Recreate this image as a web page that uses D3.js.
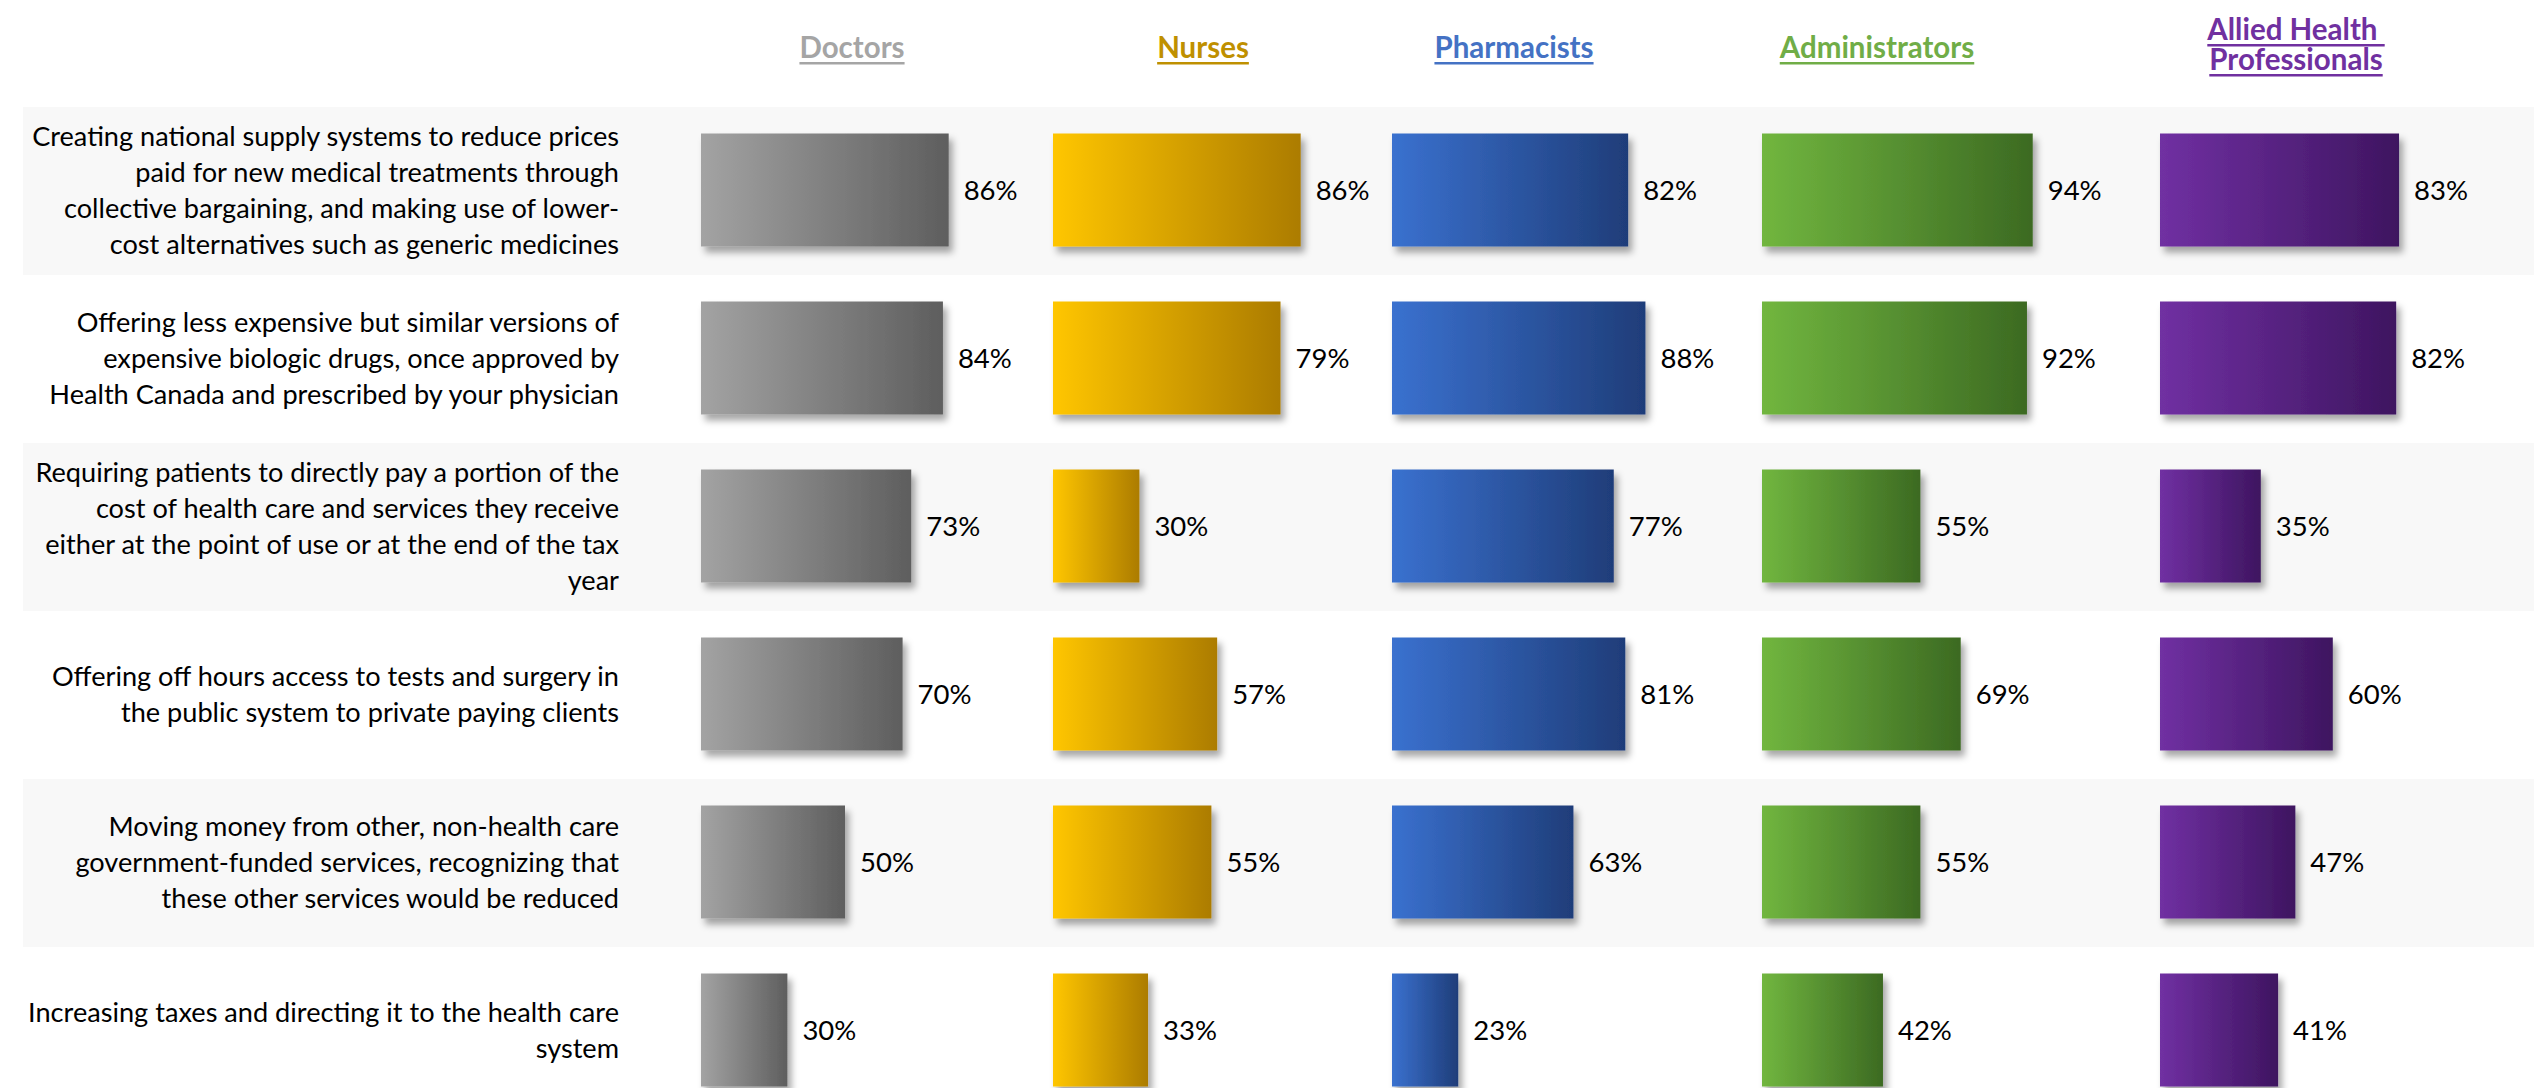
<!DOCTYPE html>
<html>
<head>
<meta charset="utf-8">
<script src="https://cdn.jsdelivr.net/npm/d3@7"></script>
<style>
  html, body { margin: 0; padding: 0; background: #ffffff; }
  svg { display: block; }
</style>
</head>
<body>
<svg id="chart" width="2534" height="1088"></svg>
<script>
// ---------- DATA ----------
const categories = [
  "Creating national supply systems to reduce prices\npaid for new medical treatments through\ncollective bargaining, and making use of lower-\ncost alternatives such as generic medicines",
  "Offering less expensive but similar versions of\nexpensive biologic drugs, once approved by\nHealth Canada and prescribed by your physician",
  "Requiring patients to directly pay a portion of the\ncost of health care and services they receive\neither at the point of use or at the end of the tax\nyear",
  "Offering off hours access to tests and surgery in\nthe public system to private paying clients",
  "Moving money from other, non-health care\ngovernment-funded services, recognizing that\nthese other services would be reduced",
  "Increasing taxes and directing it to the health care\nsystem"
];
const groups = ["Doctors", "Nurses", "Pharmacists", "Administrators", "Allied Health \nProfessionals"];
const doctors        = [86, 84, 73, 70, 50, 30];
const nurses         = [86, 79, 30, 57, 55, 33];
const pharmacists    = [82, 88, 77, 81, 63, 23];
const administrators = [94, 92, 55, 69, 55, 42];
const allied         = [83, 82, 35, 60, 47, 41];
const seriesValues = [doctors, nurses, pharmacists, administrators, allied];

// ---------- STYLE / LAYOUT ----------
const headerColors = ["#A5A5A5", "#BF9000", "#4472C4", "#70AD47", "#7030A0"];
const gradStops = [
  ["#A3A3A3", "#5E5E5E"],
  ["#FFC600", "#AC7C00"],
  ["#3A71CF", "#1F3D79"],
  ["#71B63F", "#3C6A22"],
  ["#7030A2", "#3E1560"]
];
const colStart = [701, 1053, 1392, 1762, 2160];
const headerCenter = [852, 1203, 1514, 1877, 2296];
const barMaxWidth = 288;   // pixels for 100%

const svg = d3.select("#chart");
const W = 2534;

const y = d3.scaleBand().domain(d3.range(categories.length)).range([107, 107 + 168 * categories.length]).paddingInner(0).paddingOuter(0);
const x = d3.scaleLinear().domain([0, 100]).range([0, barMaxWidth]);
const barH = 113;

// defs
const defs = svg.append("defs");
gradStops.forEach((s, i) => {
  const g = defs.append("linearGradient").attr("id", "grad" + i)
    .attr("x1", "0%").attr("x2", "100%").attr("y1", "0%").attr("y2", "0%");
  g.append("stop").attr("offset", "0%").attr("stop-color", s[0]);
  g.append("stop").attr("offset", "100%").attr("stop-color", s[1]);
});
const f = defs.append("filter").attr("id", "shadow").attr("x", "-20%").attr("y", "-20%").attr("width", "150%").attr("height", "150%");
f.append("feDropShadow").attr("dx", 4).attr("dy", 6).attr("stdDeviation", 3.5)
  .attr("flood-color", "#000").attr("flood-opacity", 0.35);

// background bands
svg.append("g").selectAll("rect").data(categories).join("rect")
  .attr("x", 23).attr("y", (d, i) => y(i)).attr("width", W - 23).attr("height", y.bandwidth())
  .attr("fill", (d, i) => i % 2 === 0 ? "#F8F8F8" : "#FFFFFF");

const labelFont = "Lato, 'Open Sans', sans-serif";

// category labels
const lineH = 36;
const labG = svg.append("g");
categories.forEach((c, i) => {
  const lines = c.split("\n");
  const cy = y(i) + y.bandwidth() / 2;
  const t = labG.append("text")
    .attr("text-anchor", "end")
    .attr("font-family", labelFont)
    .attr("font-size", 26)
    .attr("fill", "#000");
  lines.forEach((ln, k) => {
    t.append("tspan").attr("x", 619)
      .attr("y", cy + (k - (lines.length - 1) / 2) * lineH + 9)
      .text(ln);
  });
});

// fit label font size to reference width of first line
(function fit() {
  const probe = labG.select("text tspan").node();
  const w = probe.getComputedTextLength();
  const target = 587;
  const fs = 26 * target / w;
  labG.selectAll("text").attr("font-size", fs.toFixed(2));
})();

// bars
seriesValues.forEach((vals, s) => {
  const g = svg.append("g");
  g.selectAll("rect").data(vals).join("rect")
    .attr("x", colStart[s])
    .attr("y", (d, i) => y(i) + (y.bandwidth() - barH) / 2 - 1)
    .attr("width", d => x(d))
    .attr("height", barH)
    .attr("fill", `url(#grad${s})`)
    .attr("filter", "url(#shadow)");
  g.selectAll("text").data(vals).join("text")
    .attr("x", d => colStart[s] + x(d) + 15)
    .attr("y", (d, i) => y(i) + y.bandwidth() / 2 - 1)
    .attr("dy", "0.36em")
    .attr("font-family", labelFont)
    .attr("font-size", 27.5)
    .attr("fill", "#000")
    .text(d => d + "%");
});

// headers
groups.forEach((gname, s) => {
  const lines = gname.split("\n");
  const baseY = lines.length === 1 ? [58] : [40, 70];
  lines.forEach((ln, k) => {
    const t = svg.append("text")
      .attr("x", headerCenter[s]).attr("y", baseY[k])
      .attr("text-anchor", "middle")
      .attr("font-family", labelFont)
      .attr("font-weight", "bold")
      .attr("font-size", 29.5)
      .attr("fill", headerColors[s])
      .attr("xml:space", "preserve")
      .style("white-space", "pre")
      .text(ln);
    const w = t.node().getComputedTextLength();
    svg.append("rect")
      .attr("x", headerCenter[s] - w / 2).attr("y", baseY[k] + 4)
      .attr("width", w).attr("height", 2.5)
      .attr("fill", headerColors[s]);
  });
});
</script>
</body>
</html>
